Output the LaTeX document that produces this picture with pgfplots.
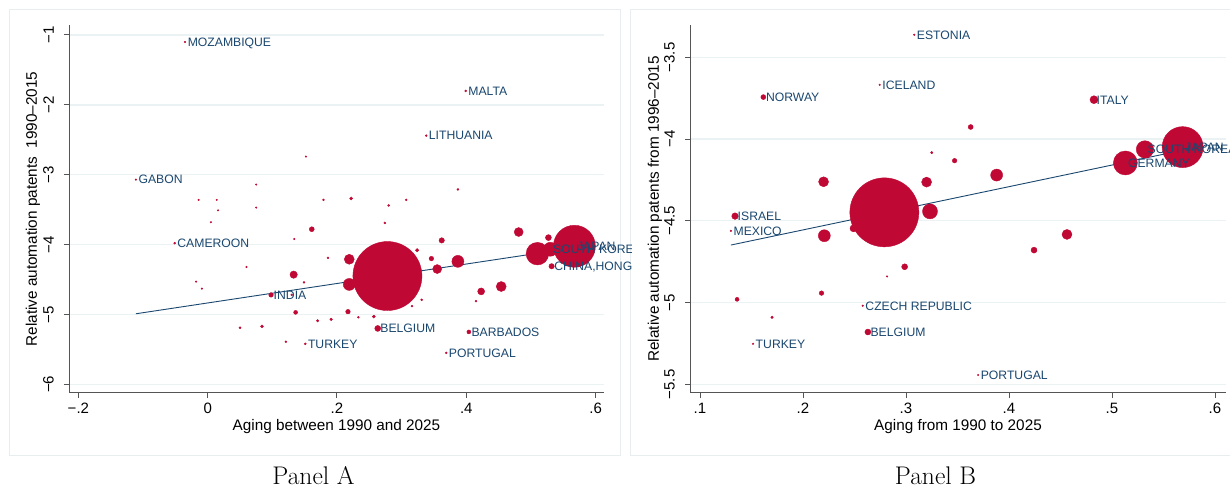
\documentclass[border=0pt]{standalone}
\usepackage{fontspec}
\usepackage{pgfplots}
\pgfplotsset{compat=1.18}
\newfontfamily\arial{Liberation Sans}
\newcommand\tickfont{\arial\fontsize{15}{15}\selectfont}
\newcommand\labfont{\arial\fontsize{15.3}{15.3}\selectfont}
\newcommand\cfont{\arial\fontsize{12.2}{12.2}\selectfont}
\definecolor{crim}{RGB}{192,8,52}
\definecolor{navy}{RGB}{26,71,111}
\definecolor{gridc}{RGB}{234,242,243}
\definecolor{framec}{RGB}{232,238,240}
\definecolor{axc}{RGB}{85,85,85}

\pgfplotstableread{
x y r
-0.035 -1.10 0.8
-0.111 -3.07 0.8
-0.051 -3.98 1
0.399 -1.80 1
0.338 -2.44 1
0.098 -4.72 2.3
0.263 -5.20 3
0.151 -5.42 1
0.404 -5.25 2
0.369 -5.55 1
0.532 -4.31 2.7
0.527 -3.90 3
0.481 -3.82 4.5
0.387 -4.24 6
0.355 -4.35 4.5
0.346 -4.20 2.3
0.362 -3.94 2.7
0.324 -4.08 1.7
0.219 -4.21 5
0.219 -4.57 6
0.454 -4.60 5
0.423 -4.67 3.5
0.415 -4.81 1
0.331 -4.79 1
0.316 -4.88 1
0.217 -4.96 2.3
0.233 -5.04 1
0.257 -5.03 1.5
0.170 -5.09 1.3
0.191 -5.07 1.3
0.149 -4.54 1
0.186 -4.19 1
0.387 -3.21 1
0.179 -3.36 1
0.222 -3.34 1.5
0.280 -3.44 1
0.307 -3.36 1
0.274 -3.69 1
0.161 -3.78 2.5
0.152 -2.74 0.8
0.075 -3.14 0.8
-0.014 -3.36 0.8
0.014 -3.36 0.8
0.016 -3.51 0.8
0.075 -3.47 0.8
0.005 -3.68 0.8
0.134 -3.92 0.8
0.060 -4.32 0.8
-0.018 -4.53 0.8
-0.009 -4.63 0.8
0.133 -4.43 3.7
0.130 -4.72 1
0.136 -4.97 2
0.050 -5.19 1
0.084 -5.17 1.5
0.121 -5.39 1
0.278 -4.45 34.5
0.530 -4.067 7
0.510 -4.13 11.3
0.5672 -4.024 21
}\bubA

\pgfplotstableread{
x y r
0.308 -3.362 0.8
0.2745 -3.668 0.8
0.1615 -3.743 2.5
0.134 -4.471 3.3
0.130 -4.561 0.8
0.258 -5.019 0.8
0.263 -5.180 3
0.1515 -5.252 0.8
0.370 -5.443 0.8
0.4825 -3.759 4
0.220 -4.261 5
0.320 -4.263 5
0.3233 -4.442 7.5
0.2207 -4.591 6
0.249 -4.546 3.5
0.325 -4.083 1.2
0.3628 -3.926 2.5
0.3472 -4.132 2.3
0.388 -4.220 6
0.4563 -4.583 5
0.4243 -4.679 3
0.2987 -4.781 3
0.2816 -4.840 0.8
0.218 -4.942 2.3
0.136 -4.980 2
0.170 -5.090 1.3
0.279 -4.448 34.5
0.513 -4.146 12
0.532 -4.063 8.7
0.5686 -4.049 20.5
}\bubB

\pgfplotsset{
 panel/.style={
  scale only axis, width=535pt, height=368pt, anchor=south west,
  axis x line*=bottom, axis y line*=left,
  axis line style={axc, line width=1pt, -},
  tick align=outside, major tick length=5pt,
  tick style={axc, line width=1pt},
  ymajorgrids, major grid style={gridc, line width=1.3pt},
  tick label style={font=\tickfont},
  yticklabel style={rotate=90, anchor=south, inner sep=0pt},
  xticklabel style={anchor=north, inner sep=0pt},
  yticklabel shift=10pt, xticklabel shift=5pt,
  label style={font=\labfont},
  clip=false,
 },
 bub/.style={scatter, only marks, mark=*,
  scatter/use mapped color={draw=crim, fill=crim},
  visualization depends on={\thisrow{r}\as\rad},
  scatter/@pre marker code/.append style={/tikz/mark size=\rad pt, /tikz/line width=0.3pt}},
 labs/.style={only marks, mark=none, point meta=explicit symbolic, nodes near coords,
  nodes near coords style={anchor=west, xshift=2.5pt, inner sep=0pt, font=\cfont,
   text=navy, text height=8.7pt, text depth=0pt}},
 fit/.style={navy, line width=0.9pt, mark=none},
}

\begin{document}
\begin{tikzpicture}
\useasboundingbox (0,0) rectangle (1230pt,487pt);
\fill[white] (0,0) rectangle (1230pt,487pt);
\draw[framec, line width=1pt] (9pt,32pt) rectangle (620pt,477pt);
\begin{scope}
\clip (630pt,0) rectangle (1230pt,487pt);
\draw[framec, line width=1pt] (630pt,32pt) rectangle (1240pt,477pt);
\end{scope}

\begin{scope}
\clip (0,0) rectangle (631pt,487pt);
\begin{axis}[panel, at={(69pt,94pt)},
  xmin=-0.2145, xmax=0.613, ymin=-6.124, ymax=-0.857,
  xtick={-0.2,0,0.2,0.4,0.6}, xticklabels={−.2,0,.2,.4,.6},
  ytick={-6,-5,-4,-3,-2,-1}, yticklabels={−6,−5,−4,−3,−2,−1},
  xlabel={Aging between 1990 and 2025},
  ylabel={Relative automation patents~~1990–2015},
  xlabel style={at={(axis description cs:0.5,-0.0924)}, anchor=center},
  ylabel style={at={(axis description cs:-0.0673,0.5)}, anchor=center}]
\addplot[bub] table[x=x,y=y] {\bubA};
\addplot[fit] coordinates {(-0.111,-4.99) (0.5672,-4.045)};
\addplot[labs] coordinates {
 (-0.035,-1.10) [MOZAMBIQUE]
 (-0.111,-3.07) [GABON]
 (-0.051,-3.98) [CAMEROON]
 (0.399,-1.80) [MALTA]
 (0.338,-2.44) [LITHUANIA]
 (0.098,-4.72) [INDIA]
 (0.263,-5.20) [BELGIUM]
 (0.151,-5.42) [TURKEY]
 (0.404,-5.25) [BARBADOS]
 (0.369,-5.55) [PORTUGAL]
 (0.532,-4.31) [{CHINA,HONG KONG}]
 (0.530,-4.067) [SOUTH KOREA]
 (0.5672,-4.024) [JAPAN]
};
\end{axis}
\end{scope}

\begin{scope}
\clip (631pt,0) rectangle (1230pt,487pt);
\begin{axis}[panel, at={(690pt,94pt)}, width=536pt,
  xmin=0.0903, xmax=0.6107, ymin=-5.553, ymax=-3.302,
  xtick={0.1,0.2,0.3,0.4,0.5,0.6}, xticklabels={.1,.2,.3,.4,.5,.6},
  ytick={-5.5,-5,-4.5,-4,-3.5}, yticklabels={−5.5,−5,−4.5,−4,−3.5},
  xlabel={Aging from 1990 to 2025},
  ylabel={Relative automation patents from 1996–2015},
  xlabel style={at={(axis description cs:0.5,-0.0924)}, anchor=center},
  ylabel style={at={(axis description cs:-0.0653,0.5)}, anchor=center}]
\addplot[bub] table[x=x,y=y] {\bubB};
\addplot[fit] coordinates {(0.130,-4.648) (0.5686,-4.068)};
\addplot[labs] coordinates {
 (0.308,-3.362) [ESTONIA]
 (0.2745,-3.668) [ICELAND]
 (0.1615,-3.743) [NORWAY]
 (0.134,-4.471) [ISRAEL]
 (0.130,-4.561) [MEXICO]
 (0.258,-5.019) [CZECH REPUBLIC]
 (0.263,-5.180) [BELGIUM]
 (0.1515,-5.252) [TURKEY]
 (0.370,-5.443) [PORTUGAL]
 (0.4825,-3.759) [ITALY]
 (0.513,-4.146) [GERMANY]
 (0.532,-4.063) [SOUTH KOREA]
 (0.5686,-4.049) [JAPAN]
};
\end{axis}
\end{scope}

\node[font=\fontsize{25.5}{25.5}\selectfont, anchor=base] at (313.5pt,3pt) {Panel A};
\node[font=\fontsize{25.5}{25.5}\selectfont, anchor=base] at (935.5pt,3pt) {Panel B};
\end{tikzpicture}
\end{document}
